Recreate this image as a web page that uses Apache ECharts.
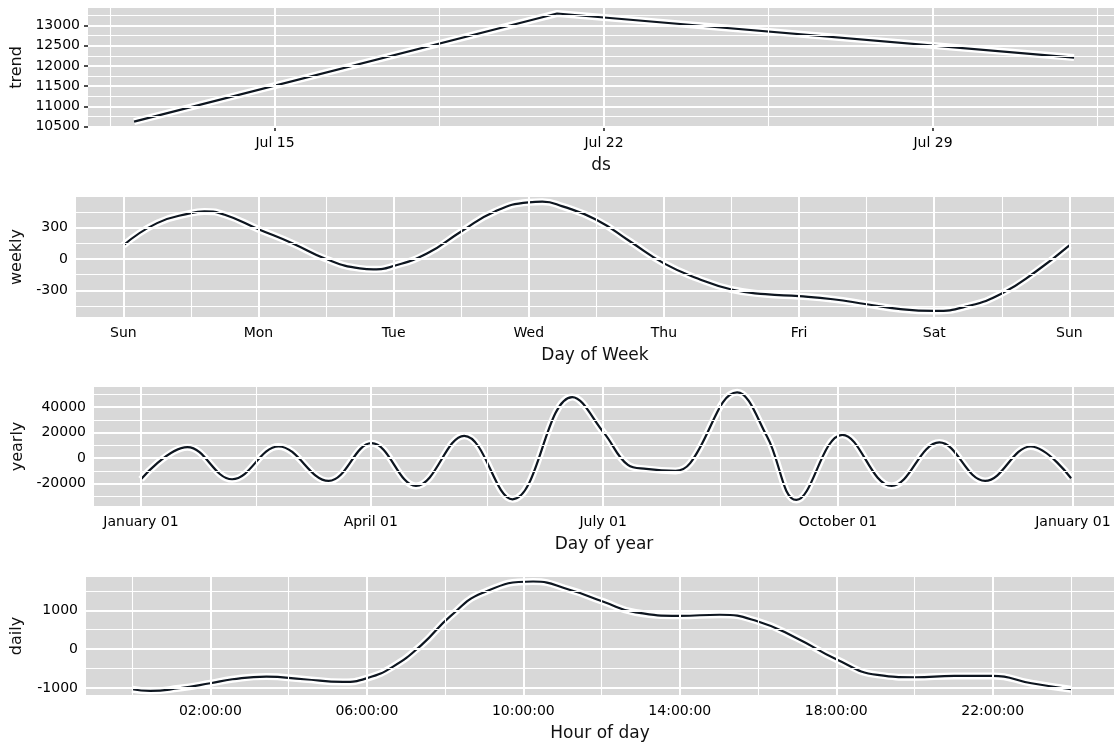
<!DOCTYPE html>
<html>
<head>
<meta charset="utf-8">
<title>Forecast components</title>
<script src="https://cdn.jsdelivr.net/npm/echarts@6/dist/echarts.min.js"></script>
<style>
  html, body { margin: 0; padding: 0; background: #fff; }
  #chart { width: 1114px; height: 744px; }
</style>
</head>
<body>
<div id="chart"></div>
<script>
// trend: x is day of July (32 = Aug 1)
const trendDays = [12, 21, 32];
const trendValues = [10623, 13300, 12208];
const trendXTicks = [15, 22, 29];
const trendXLabels = ['Jul 15', 'Jul 22', 'Jul 29'];
const trendXMinor = [11.5, 18.5, 25.5, 32.5];
const trendYTicks = [10500, 11000, 11500, 12000, 12500, 13000];
const trendYMinor = [10750, 11250, 11750, 12250, 12750, 13250];

// weekly: x is days since Sunday
const weekDays = [0, 0.25, 0.5, 0.6, 0.75, 1, 1.25, 1.5, 1.75, 1.85, 2, 2.25, 2.5, 2.75, 3, 3.1,
  3.25, 3.5, 3.75, 4, 4.25, 4.5, 4.75, 5, 5.25, 5.5, 5.75, 6, 6.25, 6.5, 6.75, 7];
const weeklyValues = [130, 343, 439, 455, 423, 285, 151, 0, -90, -99, -67, 54, 263, 455, 542, 548,
  503, 375, 167, -42, -186, -292, -337, -356, -385, -433, -480, -497, -450, -330, -122, 130];
const weekXTicks = [0, 1, 2, 3, 4, 5, 6, 7];
const weekXLabels = ['Sun', 'Mon', 'Tue', 'Wed', 'Thu', 'Fri', 'Sat', 'Sun'];
const weekXMinor = [0.5, 1.5, 2.5, 3.5, 4.5, 5.5, 6.5];
const weekYTicks = [-300, 0, 300];
const weekYMinor = [-450, -150, 150, 450];

// yearly: x is day of year
const yearDays = [0, 18.2, 35.7, 53.9, 73.5, 90.3, 107.7, 126.6, 145.5, 168.9, 181.4, 190.7,
  197.9, 209.4, 215.1, 233.5, 245.2, 256.7, 274.7, 294, 312.7, 330.6, 348.5, 364.3];
const yearlyValues = [-16470, 8630, -16470, 9150, -17780, 11760, -21700, 17510, -32150, 47840, 19600, -5230,
  -8360, -9930, -3920, 51500, 16990, -32680, 18300, -21700, 12290, -17780, 9150, -15680];
const yearXTicks = [0, 90, 181, 273, 365];
const yearXLabels = ['January 01', 'April 01', 'July 01', 'October 01', 'January 01'];
const yearXMinor = [45, 135.5, 227, 319];
const yearYTicks = [-20000, 0, 20000, 40000];
const yearYMinor = [-30000, -10000, 10000, 30000, 50000];

// daily: x is hour of day
const dayHours = [0, 0.46, 1.19, 2, 2.56, 3.43, 4.39, 5.39, 6, 6.67, 7.4, 8.13, 8.95, 10.25,
  11.18, 12.03, 12.87, 14, 15.02, 16, 16.99, 18, 19.05, 20, 21.02, 22, 22.99, 24];
const dailyValues = [-1031, -1074, -1005, -876, -773, -704, -773, -842, -747, -447, 112, 842, 1443, 1740,
  1529, 1228, 945, 859, 885, 713, 283, -258, -661, -722, -687, -687, -876, -1031];
const dayXTicks = [2, 6, 10, 14, 18, 22];
const dayXLabels = ['02:00:00', '06:00:00', '10:00:00', '14:00:00', '18:00:00', '22:00:00'];
const dayXMinor = [0, 4, 8, 12, 16, 20, 24];
const dayYTicks = [-1000, 0, 1000];
const dayYMinor = [-500, 500, 1500];

const panels = [
  { yName: 'trend', xName: 'ds', xs: trendDays, ys: trendValues, smooth: false,
    xTicks: trendXTicks, xLabels: trendXLabels, xMinor: trendXMinor, yTicks: trendYTicks, yMinor: trendYMinor,
    left: 88, top: 8, height: 119, xRange: [11.02, 32.85], yRange: [10489, 13436], yGap: 63 },
  { yName: 'weekly', xName: 'Day of Week', xs: weekDays, ys: weeklyValues, smooth: 0.5,
    xTicks: weekXTicks, xLabels: weekXLabels, xMinor: weekXMinor, yTicks: weekYTicks, yMinor: weekYMinor,
    left: 76, top: 197, height: 120, xRange: [-0.35, 7.33], yRange: [-555, 593], yGap: 49 },
  { yName: 'yearly', xName: 'Day of year', xs: yearDays, ys: yearlyValues, smooth: 0.4,
    xTicks: yearXTicks, xLabels: yearXLabels, xMinor: yearXMinor, yTicks: yearYTicks, yMinor: yearYMinor,
    left: 94, top: 387, height: 119, xRange: [-18.4, 381.1], yRange: [-37410, 55690], yGap: 68 },
  { yName: 'daily', xName: 'Hour of day', xs: dayHours, ys: dailyValues, smooth: 0.5,
    xTicks: dayXTicks, xLabels: dayXLabels, xMinor: dayXMinor, yTicks: dayYTicks, yMinor: dayYMinor,
    left: 86, top: 577, height: 118, xRange: [-1.18, 25.1], yRange: [-1178, 1856], yGap: 61 }
];

const font = 'DejaVu Sans';
const tickStyle = { show: true, length: 4, lineStyle: { color: '#222', width: 1.6 } };
const labelStyle = { fontFamily: font, fontSize: 14, color: '#000' };

function gridLines(p) {
  const major = { color: '#ffffff', width: 2, type: 'solid' };
  const minor = { color: '#ffffff', width: 1.1, type: 'solid' };
  return [].concat(
    p.xMinor.map(v => ({ xAxis: v, lineStyle: minor })),
    p.yMinor.map(v => ({ yAxis: v, lineStyle: minor })),
    p.xTicks.map(v => ({ xAxis: v, lineStyle: major })),
    p.yTicks.map(v => ({ yAxis: v, lineStyle: major }))
  );
}

const option = { animation: false, grid: [], xAxis: [], yAxis: [], series: [] };

panels.forEach((p, i) => {
  const pts = p.xs.map((x, k) => [x, p.ys[k]]);
  option.grid.push({
    left: p.left, right: 0, top: p.top, height: p.height,
    show: true, backgroundColor: '#d8d8d8', borderWidth: 0
  });
  option.xAxis.push({
    type: 'value', gridIndex: i, min: p.xRange[0], max: p.xRange[1],
    name: p.xName, nameLocation: 'middle', nameGap: 30,
    nameTextStyle: { fontFamily: font, fontSize: 17, color: '#111' },
    axisLine: { show: false },
    axisTick: Object.assign({ customValues: p.xTicks }, tickStyle),
    splitLine: { show: false },
    axisLabel: Object.assign({
      customValues: p.xTicks, margin: 9,
      formatter: v => p.xLabels[p.xTicks.indexOf(v)]
    }, labelStyle)
  });
  option.yAxis.push({
    type: 'value', gridIndex: i, min: p.yRange[0], max: p.yRange[1],
    name: p.yName, nameLocation: 'middle', nameGap: p.yGap,
    nameTextStyle: { fontFamily: font, fontSize: 16, color: '#111' },
    axisLine: { show: false },
    axisTick: Object.assign({ customValues: p.yTicks }, tickStyle),
    splitLine: { show: false },
    axisLabel: Object.assign({
      customValues: p.yTicks, margin: 8,
      formatter: v => String(v)
    }, labelStyle)
  });
  // white halo under the line, carries the panel grid lines
  option.series.push({
    type: 'line', xAxisIndex: i, yAxisIndex: i, data: pts, smooth: p.smooth,
    showSymbol: false, silent: true, z: 2,
    lineStyle: { color: '#ffffff', width: 7 },
    markLine: {
      silent: true, symbol: ['none', 'none'], label: { show: false },
      animation: false, data: gridLines(p)
    }
  });
  option.series.push({
    type: 'line', xAxisIndex: i, yAxisIndex: i, data: pts, smooth: p.smooth,
    showSymbol: false, z: 3,
    lineStyle: { color: '#0e1620', width: 2.2 }
  });
});

const chart = echarts.init(document.getElementById('chart'), null, { renderer: 'canvas' });
chart.setOption(option);
</script>
</body>
</html>
